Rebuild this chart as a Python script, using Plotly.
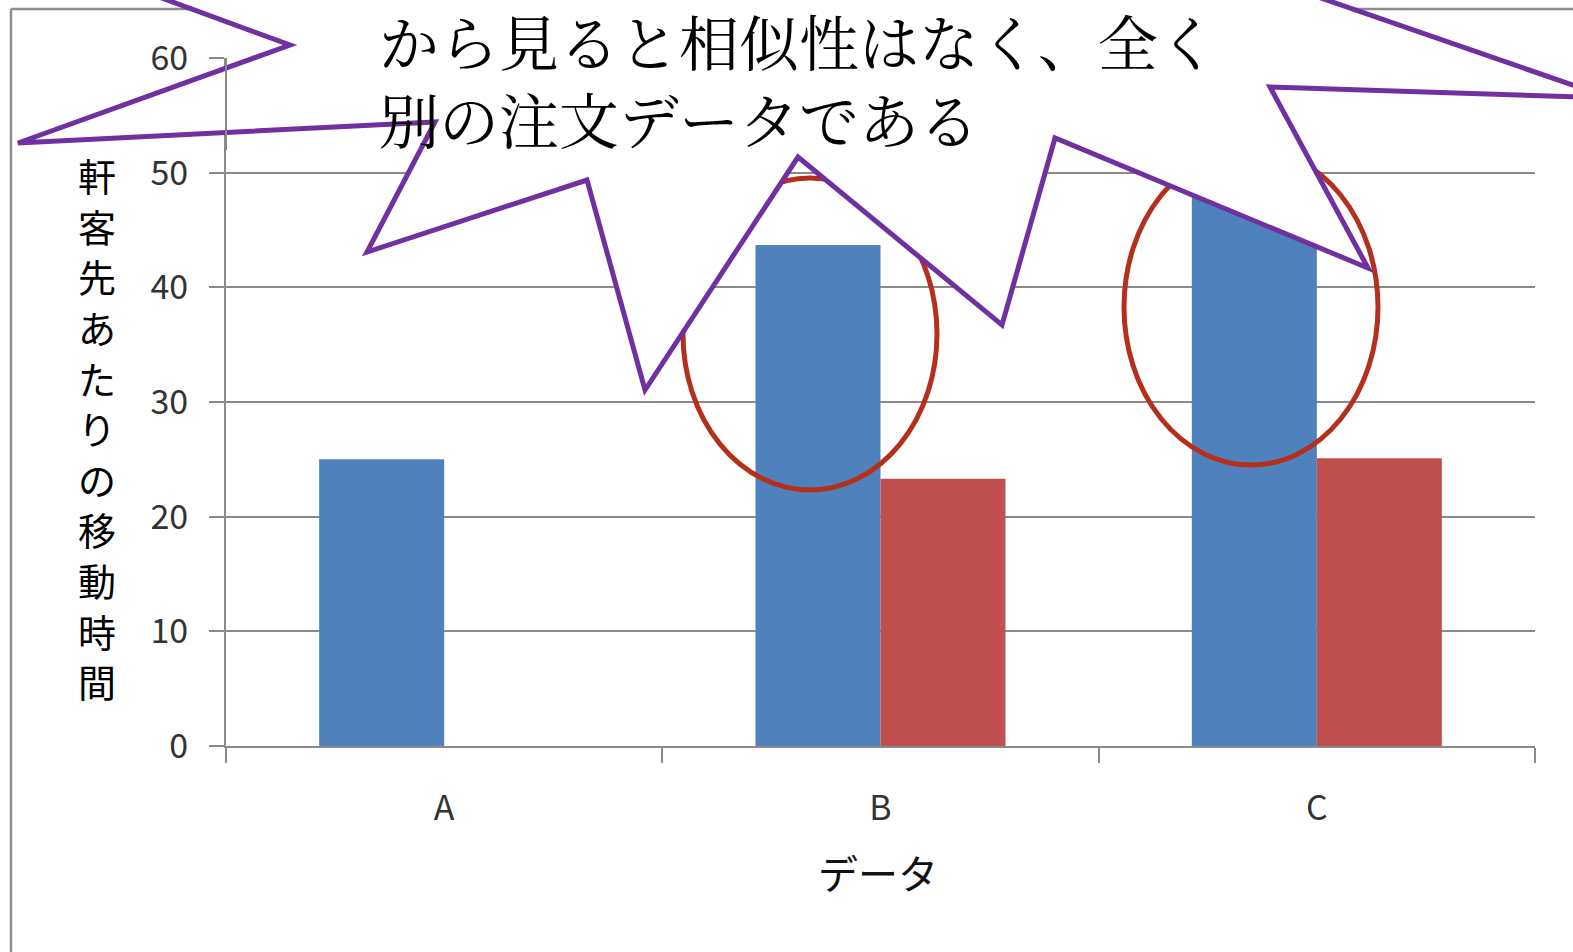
import plotly.graph_objects as go

# Data
categories = ["A", "B", "C"]
series_blue = [25.0, 43.7, 50.2]
series_red = [None, 23.3, 25.1]
y_ticks = [0, 10, 20, 30, 40, 50, 60]

y_title = "1軒客先あたりの移動時間"
x_title = "データ"
callout_lines = ["から見ると相似性はなく、全く", "別の注文データである"]

# Canvas geometry (pixels): ML is the figure margin, L..R / T..B the bar plot area
W, H = 1573, 952
ML = 20
L, R, T, B = 226, 1535, 58, 746


def px(x):
    """Pixel column -> paper x."""
    return (x - ML) / (R - ML)


def py(y):
    """Pixel row -> paper y."""
    return (B - y) / (B - T)


JP_FONT = "Noto Sans CJK JP, Noto Sans, sans-serif"
SERIF_FONT = "Noto Serif CJK JP, " + JP_FONT
GRID = "#8a8a8a"
PURPLE = "#7030A0"
ELLIPSE = "#B5301C"

fig = go.Figure()
fig.add_bar(x=categories, y=series_blue, name="系列1", marker=dict(color="#4F81BD", line_width=0))
fig.add_bar(x=categories, y=series_red, name="系列2", marker=dict(color="#C0504D", line_width=0))

# Vertical axis title, one character per row. It is a text trace on an
# invisible pixel-scaled subplot, so the callout shape can cover part of it.
chars = list(y_title)
title_top, title_step = 131, 50.6
fig.add_trace(go.Scatter(
    x=[97] * len(chars),
    y=[title_top + i * title_step for i in range(len(chars))],
    mode="text",
    text=chars,
    textfont=dict(family=JP_FONT, size=38, color="#000000"),
    textposition="middle center",
    cliponaxis=False,
    hoverinfo="skip",
    xaxis="x2",
    yaxis="y2",
    showlegend=False,
))

# Outer chart frame
shapes = [
    dict(type="line", xref="paper", yref="paper", x0=px(11), x1=px(11), y0=py(9), y1=py(960),
         line=dict(color="#8c8c8c", width=2.5)),
    dict(type="line", xref="paper", yref="paper", x0=px(11), x1=px(1580), y0=py(9), y1=py(9),
         line=dict(color="#8c8c8c", width=2.5)),
]

# Highlight ellipses around B and C
for cx, cy, rx, ry in [(810, 334, 127, 156), (1251, 307, 127, 158)]:
    shapes.append(dict(
        type="circle", xref="paper", yref="paper",
        x0=px(cx - rx), x1=px(cx + rx), y0=py(cy + ry), y1=py(cy - ry),
        line=dict(color=ELLIPSE, width=5), fillcolor="rgba(0,0,0,0)", layer="above",
    ))

# Explosion-shaped callout
burst = [
    (58, -40), (290, 45), (18, 143), (435, 122), (367, 252), (587, 180),
    (645, 390), (798, 157), (1002, 325), (1055, 138), (1368, 268),
    (1270, 87), (1610, 98), (1211, -40), (900, -120), (400, -120),
]
path = "M " + " L ".join(f"{px(x):.5f},{py(y):.5f}" for x, y in burst) + " Z"
shapes.append(dict(
    type="path", xref="paper", yref="paper", path=path,
    fillcolor="white", line=dict(color=PURPLE, width=5), layer="above",
))

# Value axis line stays visible through the callout's left spike
shapes.append(dict(
    type="line", xref="paper", yref="paper", x0=px(L), x1=px(L), y0=1, y1=py(150),
    line=dict(color=GRID, width=2), layer="above",
))

annotations = [
    dict(
        xref="paper", yref="paper", x=px(377), y=py(cy),
        xanchor="left", yanchor="middle", align="left", showarrow=False,
        text=line,
        font=dict(family=SERIF_FONT, size=60, color="#000000"),
    )
    for line, cy in zip(callout_lines, [40, 118])
]
annotations.append(dict(
    xref="paper", yref="paper", x=px(878), y=py(872),
    xanchor="center", yanchor="middle", showarrow=False,
    text=x_title,
    font=dict(family=JP_FONT, size=40, color="#111111"),
))

fig.update_layout(
    width=W, height=H, autosize=False,
    margin=dict(l=ML, r=W - R, t=T, b=H - B, pad=0),
    paper_bgcolor="white", plot_bgcolor="rgba(0,0,0,0)",
    barmode="group", bargap=0.427, bargroupgap=0,
    showlegend=False,
    shapes=shapes,
    annotations=annotations,
    xaxis=dict(
        domain=[px(L), 1],
        type="category", tickson="boundaries",
        ticks="outside", ticklen=15, tickwidth=2, tickcolor=GRID,
        showline=True, linecolor=GRID, linewidth=2,
        showgrid=False, zeroline=False,
        tickfont=dict(family=JP_FONT, size=34, color="#333333"),
        ticklabelstandoff=31,
    ),
    yaxis=dict(
        range=[0, 60], tickvals=y_ticks,
        ticks="outside", ticklen=15, tickwidth=2, tickcolor=GRID,
        showline=True, linecolor=GRID, linewidth=2,
        showgrid=True, gridcolor=GRID, gridwidth=2, zeroline=False,
        tickfont=dict(family=JP_FONT, size=34, color="#333333"),
        ticklabelstandoff=14,
    ),
    # Pixel-scaled overlay subplot spanning the whole drawing width
    xaxis2=dict(domain=[0, 1], anchor="y2", range=[ML, R], visible=False, fixedrange=True),
    yaxis2=dict(domain=[0, 1], anchor="x2", range=[B, T], visible=False, fixedrange=True),
)

fig.write_html("out.html")
